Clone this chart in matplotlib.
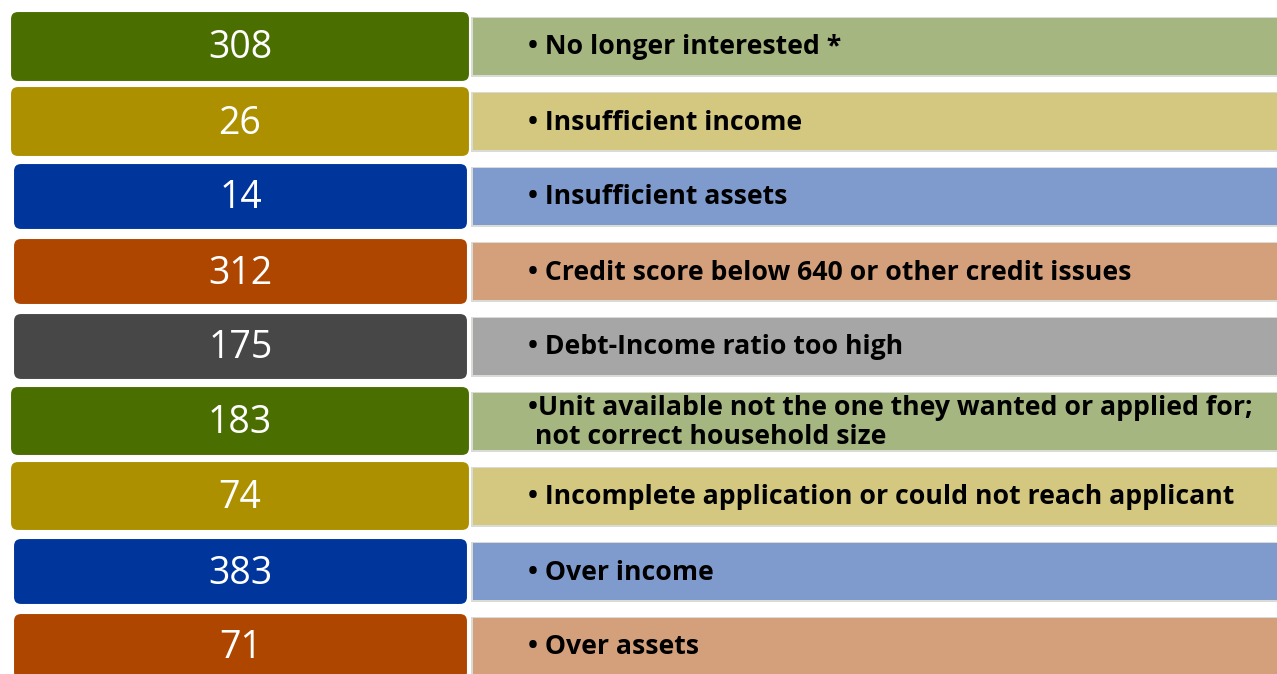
import matplotlib
matplotlib.use("Agg")
import matplotlib.pyplot as plt
from matplotlib.patches import FancyBboxPatch, Rectangle

counts = [308, 26, 14, 312, 175, 183, 74, 383, 71]
reasons = [
    "• No longer interested *",
    "• Insufficient income",
    "• Insufficient assets",
    "• Credit score below 640 or other credit issues",
    "• Debt-Income ratio too high",
    "•Unit available not the one they wanted or applied for;\n not correct household size",
    "• Incomplete application or could not reach applicant",
    "• Over income",
    "• Over assets",
]
dark = ["#4A6F00", "#AD9000", "#00359C", "#AE4600", "#474747",
        "#4A6F00", "#AD9000", "#00359C", "#AE4600"]
light = ["#A5B681", "#D4C881", "#7F9BCD", "#D4A07C", "#A6A6A6",
         "#A5B681", "#D4C881", "#7F9BCD", "#D4A07C"]

# layout in pixels
box_top = [11, 86, 163, 238, 313, 386, 461, 538, 613]
box_h = [71, 71, 67, 67, 67, 70, 70, 67, 67]
box_x = [10, 10, 13, 13, 13, 10, 10, 13, 13]
box_r = [470, 470, 468, 468, 468, 470, 470, 468, 468]
bar_top = [18, 93, 168, 243, 318, 393, 468, 543, 618]
bar_h = 57

fig = plt.figure(figsize=(12.77, 6.74), dpi=100)
ax = fig.add_axes([0, 0, 1, 1])
ax.set_xlim(0, 1277)
ax.set_ylim(674, 0)
ax.axis("off")

for i in range(len(counts)):
    # light bar with faint shadow
    ax.add_patch(Rectangle((471, bar_top[i] - 1.5), 810, bar_h + 3,
                           facecolor="#D9DCD6", edgecolor="none", zorder=1))
    ax.add_patch(Rectangle((473, bar_top[i]), 810, bar_h,
                           facecolor=light[i], edgecolor="none", zorder=2))
    # dark rounded box
    w = box_r[i] - box_x[i]
    ax.add_patch(FancyBboxPatch((box_x[i] + 8, box_top[i] + 8), w - 16, box_h[i] - 16,
                                boxstyle="round,pad=8",
                                facecolor=dark[i], edgecolor="white", linewidth=1.5,
                                zorder=3))
    cy = box_top[i] + box_h[i] / 2
    ax.text(box_x[i] + w / 2, cy + 2, str(counts[i]), color="white",
            fontsize=27, family="Open Sans", ha="center", va="center", zorder=4)
    ty = bar_top[i] + bar_h / 2
    ax.text(528, ty + 1, reasons[i], color="black", fontsize=19.2, fontweight="bold",
            family="Open Sans", ha="left", va="center", linespacing=1.15, zorder=4)

fig.savefig("out.png", dpi=100)
